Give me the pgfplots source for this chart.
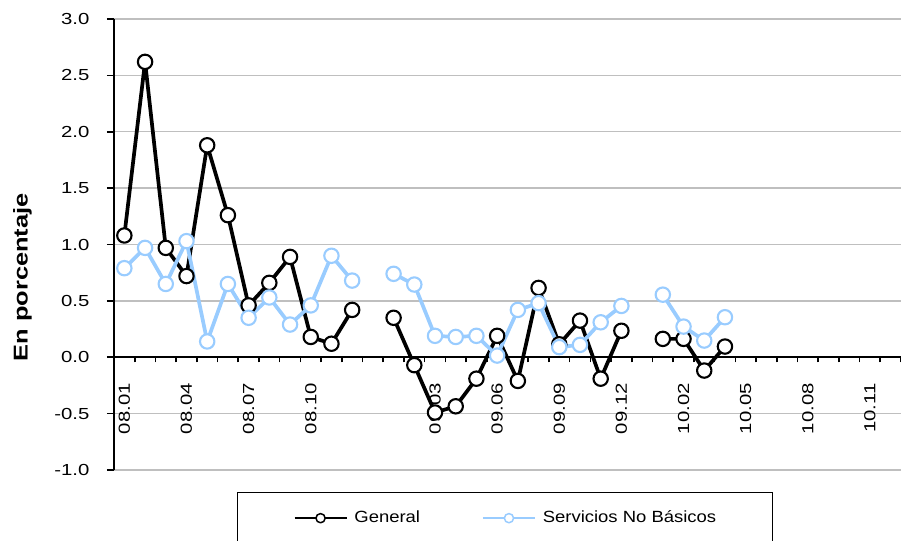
\documentclass[border=0pt]{standalone}
\usepackage{pgfplots}
\pgfplotsset{compat=1.18}
\usepackage{pgfplotstable}
\usepackage{fontspec}
\setmainfont{Liberation Sans}[FakeStretch=1.27]
\newfontfamily\legfont{Liberation Sans}[FakeStretch=1.14]
\definecolor{snb}{RGB}{153,204,255}
\definecolor{gridc}{RGB}{191,191,191}
\pgfplotstableread{
x g s
0 1.08 0.79
1 2.62 0.97
2 0.97 0.65
3 0.72 1.03
4 1.88 0.14
5 1.26 0.65
6 0.46 0.35
7 0.66 0.53
8 0.89 0.29
9 0.18 0.46
10 0.12 0.90
11 0.42 0.68
12 nan nan
13 0.35 0.74
14 -0.07 0.645
15 -0.49 0.19
16 -0.435 0.18
17 -0.19 0.19
18 0.19 0.015
19 -0.21 0.42
20 0.615 0.48
21 0.115 0.09
22 0.325 0.11
23 -0.19 0.31
24 0.235 0.455
25 nan nan
26 0.163 0.555
27 0.163 0.272
28 -0.118 0.148
29 0.095 0.355
}\data
\begin{document}
\begin{tikzpicture}
\begin{axis}[
  name=ax,
  scale only axis, width=393.5pt, height=225.5pt,
  xmin=-0.5, xmax=37.5, ymin=-1, ymax=3,
  axis y line=left, axis x line=middle,
  axis line style={-, line width=1pt, black},
  hide obscured x ticks=false, hide obscured y ticks=false,
  xtick={0,3,6,9,12,15,18,21,24,27,30,33,36},
  xticklabels={08.01,08.04,08.07,08.10,,09.03,09.06,09.09,09.12,10.02,10.05,10.08,10.11},
  minor xtick={-0.5,0.5,...,37.5},
  ytick={-1,-0.5,0,0.5,1,1.5,2,2.5,3},
  tick align=outside,
  major tick length=3.5pt, minor tick length=2.5pt,
  every major x tick/.append style={draw=none},
  every tick/.append style={black, line width=0.8pt},
  ymajorgrids, major grid style={gridc, line width=0.65pt},
  /pgf/number format/assume math mode=true,
  xticklabel style={rotate=90, anchor=east, font=\fontsize{8}{9.6}\selectfont},
  xticklabel shift=6pt,
  yticklabel style={font=\fontsize{8}{9.6}\selectfont, /pgf/number format/.cd, fixed, fixed zerofill, precision=1},
  yticklabel shift=5.3pt,
  ylabel={\fontsize{10}{12}\selectfont\bfseries En porcentaje},
  every axis y label/.style={at={(axis description cs:-0.1163,0.427)}, rotate=90, anchor=center},
  unbounded coords=jump,
  legend columns=2,
  legend style={at={(axis description cs:0.1563,-0.0488)}, anchor=north west,
    draw=black, line width=0.7pt, font=\legfont\fontsize{8.1}{9.7}\selectfont,
    inner xsep=28pt, inner ysep=9pt, nodes={inner sep=0pt},
    /tikz/every odd column/.append style={column sep=3.5pt},
    /tikz/every even column/.append style={column sep=31pt}},
  legend image code/.code={
    \draw[#1, line width=0.85pt] (0pt,0pt) -- (26pt,0pt);
    \draw[#1, mark size=2.3pt, mark options={solid, fill=white, line width=0.75pt}] plot coordinates {(13pt,0pt)};
  },
]
\addplot[black, line width=1.85pt, line join=round, mark=*, mark size=3.6pt, mark options={fill=white, line width=1.05pt}] table[x=x, y=g] {\data};
\addlegendentry{General}
\addplot[snb, line width=1.85pt, line join=round, mark=*, mark size=3.6pt, mark options={fill=white, line width=1.05pt}] table[x=x, y=s] {\data};
\addlegendentry{Servicios No Básicos}
\end{axis}
\pgfresetboundingbox
\path[use as bounding box] (ax.south west) ++(-57pt,-35.5pt) rectangle ++(450.5pt,270.5pt);
\end{tikzpicture}
\end{document}
